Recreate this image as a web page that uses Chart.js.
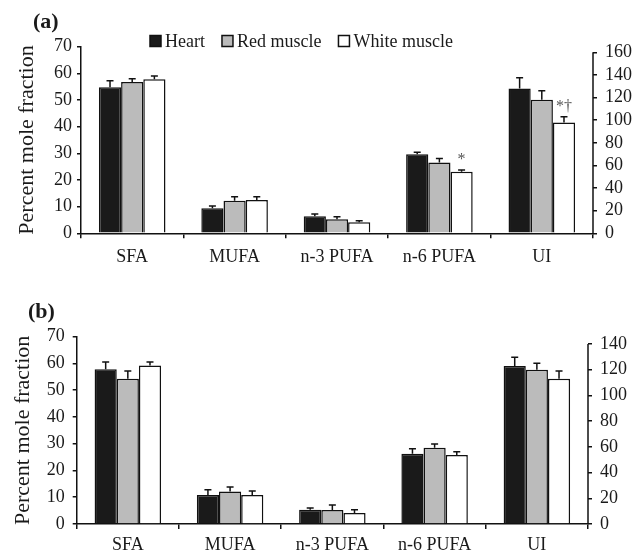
<!DOCTYPE html>
<html>
<head>
<meta charset="utf-8">
<script src="https://cdn.jsdelivr.net/npm/chart.js@4.4.0/dist/chart.umd.min.js"></script>
<style>
  html, body { margin: 0; padding: 0; background: #fff; }
  #wrap { position: relative; width: 641px; height: 553px; }
  .panel { position: absolute; left: 0; width: 641px; }
</style>
</head>
<body>
<div id="wrap">
  <div class="panel" style="top:0;height:270px"><canvas id="chartA" width="641" height="270"></canvas></div>
  <div class="panel" style="top:270px;height:283px"><canvas id="chartB" width="641" height="283"></canvas></div>
</div>
<script>
const categories = ['SFA', 'MUFA', 'n-3 PUFA', 'n-6 PUFA', 'UI'];
const seriesNames = ['Heart', 'Red muscle', 'White muscle'];

// panel (a) - the last value (UI) belongs to the right axis
const heartA = [54.8, 9.4, 6.4, 29.7, 128];
const redA = [56.8, 12.2, 5.3, 26.6, 118];
const whiteA = [57.8, 12.5, 4.1, 23.1, 98];
const heartErrA = [2.4, 0.8, 0.8, 0.7, 9.5];
const redErrA = [1.2, 1.5, 0.9, 1.5, 8];
const whiteErrA = [1.2, 1.2, 0.6, 0.6, 5];
const whiteSigA = ['', '', '', '*', '*†'];

// panel (b)
const heartB = [57.8, 10.8, 5.3, 26.3, 123];
const redB = [54.3, 12.1, 5.2, 28.5, 120];
const whiteB = [59.2, 10.8, 4.1, 25.8, 113];
const heartErrB = [2.7, 2.0, 0.7, 1.8, 6.7];
const redErrB = [2.9, 1.7, 1.9, 1.4, 5];
const whiteErrB = [1.3, 1.5, 1.2, 1.2, 6];

const SERIF = '"Liberation Serif", "Times New Roman", serif';
const INK = '#1a1a1a';
const fills = ['#1a1a1a', '#bbbbbb', '#ffffff'];

function makeDatasets(values, errors, sigs) {
    const last = categories.length - 1;
    const out = [];
    // left axis: fatty acid classes
    values.forEach((v, s) => {
        out.push({
            label: seriesNames[s], yAxisID: 'y',
            data: v.map((d, i) => i === last ? null : d),
            err: errors[s], sig: sigs[s],
            backgroundColor: fills[s]
        });
    });
    // right axis: unsaturation index
    values.forEach((v, s) => {
        out.push({
            label: seriesNames[s], yAxisID: 'y2',
            data: v.map((d, i) => i === last ? d : null),
            err: errors[s], sig: sigs[s],
            backgroundColor: fills[s]
        });
    });
    return out;
}

const decor = {
    id: 'decor',
    afterDatasetsDraw(chart) {
        const ctx = chart.ctx;
        ctx.save();
        chart.data.datasets.forEach((ds, di) => {
            const meta = chart.getDatasetMeta(di);
            const scale = chart.scales[ds.yAxisID];
            meta.data.forEach((bar, i) => {
                const v = ds.data[i];
                if (v === null || v === undefined) return;
                const yTop = scale.getPixelForValue(v + ds.err[i]);
                ctx.strokeStyle = '#111';
                ctx.lineWidth = 1.5;
                ctx.beginPath();
                ctx.moveTo(bar.x, bar.y);
                ctx.lineTo(bar.x, yTop);
                ctx.moveTo(bar.x - 3.5, yTop);
                ctx.lineTo(bar.x + 3.5, yTop);
                ctx.stroke();
                if (ds.sig && ds.sig[i]) {
                    ctx.fillStyle = '#555';
                    ctx.font = '16px ' + SERIF;
                    ctx.textAlign = 'center';
                    ctx.textBaseline = 'alphabetic';
                    ctx.fillText(ds.sig[i], bar.x, yTop - 6);
                }
            });
        });
        ctx.restore();
    },
    afterDraw(chart, args, opts) {
        const ctx = chart.ctx;
        ctx.save();
        // right axis line only spans the ticks
        const r = chart.scales.y2;
        const top = r.getPixelForValue(r.ticks[r.ticks.length - 1].value);
        const bot = r.getPixelForValue(0);
        ctx.strokeStyle = '#111';
        ctx.lineWidth = 1.5;
        ctx.beginPath();
        ctx.moveTo(r.left, top);
        ctx.lineTo(r.left, bot);
        ctx.stroke();

        // panel label
        ctx.fillStyle = INK;
        ctx.font = 'bold 22px ' + SERIF;
        ctx.textAlign = 'left';
        ctx.textBaseline = 'alphabetic';
        ctx.fillText(opts.label, opts.labelX, opts.labelY);

        // legend
        if (opts.legend) {
            let x = opts.legendX;
            const yc = opts.legendY;
            ctx.font = '18px ' + SERIF;
            ctx.textBaseline = 'middle';
            seriesNames.forEach((name, s) => {
                const ds = chart.data.datasets[s];
                ctx.fillStyle = ds.backgroundColor;
                ctx.fillRect(x, yc - 5.5, 11, 11);
                ctx.strokeStyle = '#111';
                ctx.lineWidth = 1.5;
                ctx.strokeRect(x, yc - 5.5, 11, 11);
                x += 11 + 4;
                ctx.fillStyle = INK;
                ctx.fillText(name, x, yc + 1);
                x += ctx.measureText(name).width + 17;
            });
        }
        ctx.restore();
    }
};

function makeChart(id, values, errors, sigs, cfg) {
    const tickFont = { family: SERIF, size: 18 };
    return new Chart(document.getElementById(id), {
        type: 'bar',
        data: { labels: categories, datasets: makeDatasets(values, errors, sigs) },
        options: {
            responsive: false,
            animation: false,
            layout: { padding: { top: cfg.top, left: 0, right: 0, bottom: 0 } },
            datasets: {
                bar: {
                    categoryPercentage: 0.65,
                    barPercentage: 1,
                    skipNull: true,
                    borderWidth: 1.5,
                    borderColor: '#111'
                }
            },
            plugins: {
                legend: { display: false },
                tooltip: { enabled: false },
                decor: cfg.decor
            },
            scales: {
                x: {
                    ticks: { font: tickFont, color: INK, padding: cfg.xPad, maxRotation: 0, autoSkip: false },
                    grid: { drawOnChartArea: false, tickLength: 5, color: '#111', lineWidth: 1.5 },
                    border: { color: '#111', width: 1.5 },
                    afterFit: s => { s.height = cfg.xHeight; }
                },
                y: {
                    position: 'left',
                    min: 0, max: 70,
                    ticks: { stepSize: 10, font: tickFont, color: INK, padding: cfg.yPad, autoSkip: false },
                    grid: { drawOnChartArea: false, tickLength: 4, color: '#111', lineWidth: 1.5 },
                    border: { color: '#111', width: 1.5 },
                    title: {
                        display: true, text: 'Percent mole fraction', color: INK,
                        font: { family: SERIF, size: 22 },
                        padding: { top: cfg.titlePad, bottom: 0 }
                    },
                    afterFit: s => { s.width = cfg.leftW; }
                },
                y2: {
                    position: 'right',
                    min: 0, max: cfg.rightMax,
                    ticks: { stepSize: 20, includeBounds: false, font: tickFont, color: INK, padding: 8, autoSkip: false },
                    grid: { drawOnChartArea: false, tickLength: 4, color: '#111', lineWidth: 1.5 },
                    border: { display: false },
                    afterFit: s => { s.width = cfg.rightW; }
                }
            }
        },
        plugins: [decor]
    });
}

makeChart('chartA', [heartA, redA, whiteA], [heartErrA, redErrA, whiteErrA], [null, null, whiteSigA], {
    top: 46.7, xHeight: 36.7, leftW: 81, rightW: 48, rightMax: 165,
    xPad: 8, yPad: 5, titlePad: 14,
    decor: { label: '(a)', labelX: 33, labelY: 28, legend: true, legendX: 150, legendY: 41 }
});

makeChart('chartB', [heartB, redB, whiteB], [heartErrB, redErrB, whiteErrB], [null, null, null], {
    top: 66.7, xHeight: 29, leftW: 76.7, rightW: 53, rightMax: 145.7,
    xPad: 5, yPad: 8, titlePad: 10,
    decor: { label: '(b)', labelX: 28, labelY: 48, legend: false }
});
</script>
</body>
</html>
